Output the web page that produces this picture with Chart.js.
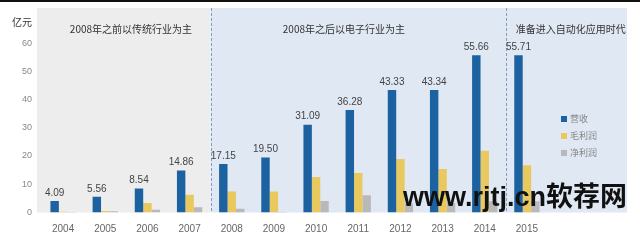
<!DOCTYPE html>
<html>
<head>
<meta charset="utf-8">
<script src="https://cdn.jsdelivr.net/npm/chart.js@4/dist/chart.umd.min.js"></script>
<style>
  html, body { margin: 0; padding: 0; background: #fff; }
  #wrap { position: relative; width: 640px; height: 242px; }
</style>
</head>
<body>
<div id="wrap"><canvas id="chart" width="640" height="242"></canvas></div>
<script>
'use strict';

// --- data (亿元) ---
const years   = ['2004', '2005', '2006', '2007', '2008', '2009', '2010', '2011', '2012', '2013', '2014', '2015'];
const revenue = [4.09, 5.56, 8.54, 14.86, 17.15, 19.50, 31.09, 36.28, 43.33, 43.34, 55.66, 55.71];
const gross   = [0.3, 0.5, 3.4, 6.3, 7.4, 7.4, 12.6, 14.0, 18.9, 15.4, 21.9, 16.7];
const net     = [0.2, 0.4, 1.0, 1.9, 1.3, 0.2, 4.1, 6.1, 3.2, 3.4, 4.0, 4.0];
const seriesNames = ['营收', '毛利润', '净利润'];
const yTicks  = [0, 10, 20, 30, 40, 50, 60];
const phases  = ['2008年之前以传统行业为主', '2008年之后以电子行业为主', '准备进入自动化应用时代'];

const colors = ['#1d62a0', '#e9c85e', '#b9b9b9'];
const FONT = "'Liberation Sans', 'Noto Sans CJK SC', sans-serif";
const CJK  = "'Noto Sans CJK SC', 'Liberation Sans', sans-serif";

// backgrounds, dividers, titles, value labels, legend, watermark
const decor = {
  id: 'decor',
  beforeDatasetsDraw(chart) {
    const { ctx, chartArea: a, scales: { x } } = chart;
    const d1 = x.getPixelForValue(3.5);
    const d2 = x.getPixelForValue(10.5);
    ctx.save();
    ctx.fillStyle = '#ededed';
    ctx.fillRect(a.left - 5, a.top, d1 - a.left + 5, a.bottom - a.top);
    ctx.fillStyle = '#dfe8f3';
    ctx.fillRect(d1, a.top, a.right + 79 - d1, a.bottom - a.top);

    ctx.strokeStyle = '#7b9cc4';
    ctx.lineWidth = 1;
    ctx.setLineDash([3, 2]);
    [d1, d2].forEach(px => {
      ctx.beginPath();
      ctx.moveTo(Math.round(px) + 0.5, a.top);
      ctx.lineTo(Math.round(px) + 0.5, a.bottom);
      ctx.stroke();
    });
    ctx.setLineDash([]);

    ctx.fillStyle = '#333';
    ctx.font = '10px ' + CJK;
    ctx.textAlign = 'center';
    ctx.textBaseline = 'middle';
    [1.61, 6.66, 12.04].forEach((pos, i) => {
      ctx.fillText(phases[i], x.getPixelForValue(pos), a.top + 21);
    });
    ctx.fillText('亿元', a.left - 20, a.top + 14);
    ctx.restore();
  },
  afterDatasetsDraw(chart) {
    const { ctx, chartArea: a } = chart;
    ctx.save();
    // value labels on revenue bars
    ctx.fillStyle = '#444';
    ctx.font = '10px ' + FONT;
    ctx.textAlign = 'center';
    ctx.textBaseline = 'bottom';
    chart.getDatasetMeta(0).data.forEach((bar, i) => {
      ctx.fillText(revenue[i].toFixed(2), bar.x, bar.y - 3);
    });

    // legend
    ctx.font = '9px ' + CJK;
    ctx.textBaseline = 'middle';
    ctx.textAlign = 'left';
    chart.data.datasets.forEach((ds, i) => {
      const ly = a.top + 111 + i * 17;
      ctx.fillStyle = ds.backgroundColor;
      ctx.fillRect(a.right + 13, ly - 3, 6, 6);
      ctx.fillStyle = '#888';
      ctx.fillText(ds.label, a.right + 22, ly);
    });

    // watermark
    ctx.fillStyle = '#111';
    ctx.font = 'bold 27px ' + FONT;
    ctx.textBaseline = 'alphabetic';
    ctx.fillText('www.rjtj.cn软荐网', 403, 206);

    // top border strip
    ctx.fillStyle = '#111';
    ctx.fillRect(0, 0, 640, 2);
    ctx.restore();
  }
};

new Chart(document.getElementById('chart'), {
  type: 'bar',
  data: {
    labels: years,
    datasets: [revenue, gross, net].map((vals, i) => ({
      label: seriesNames[i],
      data: vals,
      backgroundColor: colors[i],
      borderWidth: 0,
      barPercentage: 1,
      categoryPercentage: 0.6
    }))
  },
  options: {
    responsive: false,
    animation: false,
    layout: { padding: { top: 8, right: 92, left: 0, bottom: 0 } },
    plugins: { legend: { display: false }, tooltip: { enabled: false } },
    scales: {
      x: {
        grid: { display: false, drawTicks: false },
        border: { display: false },
        ticks: { color: '#666', font: { size: 10, family: FONT }, padding: 11, maxRotation: 0 },
        afterFit: s => { s.height = 29.5; s.paddingLeft = 0; s.paddingRight = 0; }
      },
      y: {
        min: 0,
        max: 72.4,
        grid: { display: false, drawTicks: false },
        border: { display: false },
        afterBuildTicks: s => { s.ticks = yTicks.map(v => ({ value: v })); },
        ticks: { color: '#888', font: { size: 9, family: FONT }, padding: 10 },
        afterFit: s => { s.width = 42; s.paddingTop = 0; s.paddingBottom = 0; }
      }
    }
  },
  plugins: [decor]
});
</script>
</body>
</html>
